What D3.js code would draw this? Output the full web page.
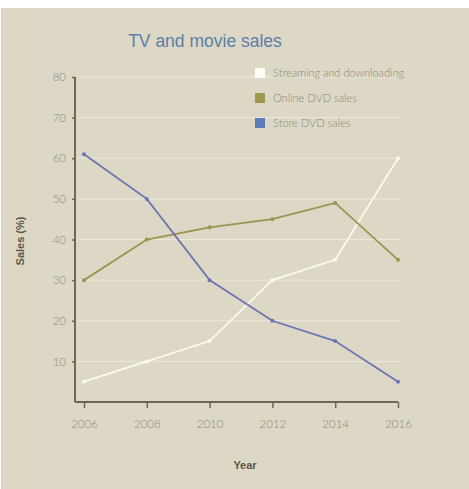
<!DOCTYPE html>
<html>
<head>
<meta charset="utf-8">
<script src="https://cdn.jsdelivr.net/npm/d3@7"></script>
<style>
  body { margin: 0; background: #fff; }
  svg { display: block; }
</style>
</head>
<body>
<div id="chart"></div>
<script>
// Chart data
var years = [2006, 2008, 2010, 2012, 2014, 2016];
var streaming = [5, 10, 15, 30, 35, 60];
var onlineDvd = [30, 40, 43, 45, 49, 35];
var storeDvd = [61, 50, 30, 20, 15, 5];
var yTicks = [10, 20, 30, 40, 50, 60, 70, 80];
var seriesNames = ["Streaming and downloading", "Online DVD sales", "Store DVD sales"];
var seriesColors = ["#fbf9f0", "#9b9552", "#6b75b2"];
var legendColors = ["#fdfcf6", "#9e9850", "#5d7cb8"];

var W = 469, H = 489;
var axisX = 75, axisBottom = 402;

var svg = d3.select("#chart")
            .append("svg")
            .attr("width", W)
            .attr("height", H);

// Background panel
svg.append("rect")
   .attr("x", 1).attr("y", 8)
   .attr("width", W - 1).attr("height", H - 8)
   .attr("fill", "#ddd8c5");

// Scales
var xScale = d3.scaleLinear()
  .domain([2006, 2016])
  .range([84, 398]);

var yScale = d3.scaleLinear()
  .domain([0, 80])
  .range([axisBottom, 77]);

// Gridlines
svg.append("g")
   .selectAll("line")
   .data(yTicks)
   .enter()
   .append("line")
   .attr("x1", axisX + 4)
   .attr("x2", 400)
   .attr("y1", function(d) { return yScale(d); })
   .attr("y2", function(d) { return yScale(d); })
   .style("stroke", "#ece8da")
   .style("stroke-width", 1);

// Title
svg.append("text")
   .attr("x", 205)
   .attr("y", 47)
   .attr("text-anchor", "middle")
   .style("font-family", "Liberation Sans, Arial, sans-serif")
   .style("font-size", "17.5px")
   .style("fill", "#5b7ea6")
   .text("TV and movie sales");

// Y axis
var yAxis = d3.axisLeft(yScale)
              .tickValues(yTicks)
              .tickSize(3)
              .tickPadding(6);

var yAxisGroup = svg.append("g")
   .attr("transform", "translate(" + axisX + ",0)")
   .call(yAxis);

// X axis
var xAxis = d3.axisBottom(xScale)
              .tickValues(years)
              .tickSize(6)
              .tickPadding(12)
              .tickFormat(function(d) { return d; });

var xAxisGroup = svg.append("g")
   .attr("transform", "translate(0," + axisBottom + ")")
   .call(xAxis);

// Axis styling
[yAxisGroup, xAxisGroup].forEach(function(g) {
  g.select(".domain").remove();
  g.selectAll(".tick line").style("stroke", "#6d6754").style("stroke-width", 1.5);
  g.selectAll(".tick text")
   .style("font-family", "Lato, 'Open Sans', sans-serif")
   .style("font-weight", "300")
   .style("font-size", "11.5px")
   .style("fill", "#8c877a");
});

// Axis lines
svg.append("line")
   .attr("x1", axisX).attr("x2", axisX)
   .attr("y1", yScale(80)).attr("y2", axisBottom)
   .style("stroke", "#6d6754").style("stroke-width", 2);
svg.append("line")
   .attr("x1", axisX).attr("x2", xScale(2016))
   .attr("y1", axisBottom).attr("y2", axisBottom)
   .style("stroke", "#6d6754").style("stroke-width", 2);

// Axis titles
svg.append("text")
   .attr("transform", "translate(24,241) rotate(-90)")
   .attr("text-anchor", "middle")
   .style("font-family", "Liberation Sans, Arial, sans-serif")
   .style("font-weight", "bold")
   .style("font-size", "11px")
   .style("fill", "#5a5649")
   .text("Sales (%)");

svg.append("text")
   .attr("x", 245)
   .attr("y", 469)
   .attr("text-anchor", "middle")
   .style("font-family", "Liberation Sans, Arial, sans-serif")
   .style("font-weight", "bold")
   .style("font-size", "11px")
   .style("fill", "#5a5649")
   .text("Year");

// Lines
var lineGen = d3.line()
  .x(function(d) { return xScale(d.year); })
  .y(function(d) { return yScale(d.value); });

var seriesData = [streaming, onlineDvd, storeDvd].map(function(vals, i) {
  return {
    name: seriesNames[i],
    color: seriesColors[i],
    values: vals.map(function(v, j) { return {year: years[j], value: v}; })
  };
});

var series = svg.selectAll(".series")
  .data(seriesData)
  .enter()
  .append("g")
  .attr("class", "series");

series.append("path")
  .attr("d", function(d) { return lineGen(d.values); })
  .style("fill", "none")
  .style("stroke", function(d) { return d.color; })
  .style("stroke-width", 1.8);

series.selectAll("circle")
  .data(function(d) { return d.values.map(function(v) { return {v: v, color: d.color}; }); })
  .enter()
  .append("circle")
  .attr("cx", function(d) { return xScale(d.v.year); })
  .attr("cy", function(d) { return yScale(d.v.value); })
  .attr("r", 2)
  .style("fill", function(d) { return d.color; });

// Legend
var legend = svg.selectAll(".legend")
  .data(seriesNames)
  .enter()
  .append("g")
  .attr("class", "legend")
  .attr("transform", function(d, i) { return "translate(255," + (68 + i * 25) + ")"; });

legend.append("rect")
  .attr("width", 10)
  .attr("height", 10)
  .style("fill", function(d, i) { return legendColors[i]; });

legend.append("text")
  .attr("x", 18)
  .attr("y", 9)
  .style("font-family", "Lato, 'Open Sans', sans-serif")
  .style("font-weight", "300")
  .style("font-size", "11px")
  .style("fill", "#8c877a")
  .text(function(d) { return d; });
</script>
</body>
</html>
